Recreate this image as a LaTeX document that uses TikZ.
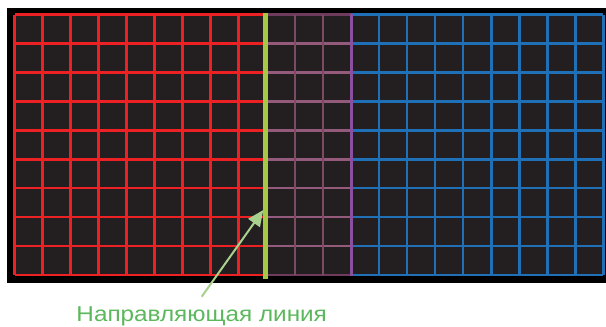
\documentclass[tikz,border=0pt]{standalone}
\usepackage{fontspec}
\setmainfont{Liberation Sans}
\usetikzlibrary{arrows.meta,positioning}
\definecolor{gridred}{HTML}{ED2124}
\definecolor{gridmauve}{HTML}{7C4B63}
\definecolor{gridpink}{HTML}{935A7C}
\definecolor{mauveedge}{HTML}{6E3B5C}
\definecolor{edgepurple}{HTML}{8A4F9E}
\definecolor{gridblue}{HTML}{1F70B6}
\definecolor{cellfill}{HTML}{231F20}
\definecolor{guidegreen}{HTML}{A5C845}
\definecolor{arrowgreen}{HTML}{A9D18E}
\definecolor{textgreen}{HTML}{5CB85C}

\begin{document}
\begin{tikzpicture}[x=1pt,y=-1pt,
    gridline/.style={line width=2.7pt},
    guide/.style={draw=guidegreen, line width=4.3pt},
    pointer/.style={draw=arrowgreen, line width=2pt, -{Triangle[length=16pt,width=14pt]}},
    caption/.style={font=\fontsize{21.5}{24}\selectfont, text=textgreen, inner sep=0pt}
  ]
  \useasboundingbox (0,0) rectangle (606,327);
  \fill[white] (0,0) rectangle (606,327);
  \fill[black] (7,8) rectangle (606,283);
  \fill[cellfill] (14.5,14.5) rectangle (603.3,275);

  % red part
  \foreach \r in {0,...,9}
    \draw[gridline,gridred] (14.5,{14.5+\r*28.94}) -- (266.9,{14.5+\r*28.94});
  \foreach \c in {0,...,9}
    \draw[gridline,gridred] ({14.5+\c*28.04},14.5) -- ({14.5+\c*28.04},275);

  % middle part
  \foreach \r in {1,...,8}
    \draw[gridline,gridpink] (266.9,{14.5+\r*28.94}) -- (351,{14.5+\r*28.94});
  \draw[gridline,mauveedge] (266.9,14.5) -- (351,14.5);
  \draw[gridline,mauveedge] (266.9,275) -- (351,275);
  \foreach \c in {10,11}
    \draw[gridline,gridmauve] ({14.5+\c*28.04},14.5) -- ({14.5+\c*28.04},275);

  % blue part
  \foreach \r in {0,...,9}
    \draw[gridline,gridblue] (351,{14.5+\r*28.94}) -- (603.3,{14.5+\r*28.94});
  \foreach \c in {13,...,21}
    \draw[gridline,gridblue] ({14.5+\c*28.04},14.5) -- ({14.5+\c*28.04},275);
  \draw[line width=3pt,edgepurple] (351,14) -- (351,275.5);

  \draw[guide] (265.5,13) -- (265.5,278.7);

  \node[caption, anchor=base] (label) at (201.7,321.7) {\scalebox{1.13}[1]{Направляющая линия}};
  \coordinate (tip) at (263.3,210);
  \draw[pointer] ([yshift=10pt]label.north) -- (tip);
\end{tikzpicture}
\end{document}
